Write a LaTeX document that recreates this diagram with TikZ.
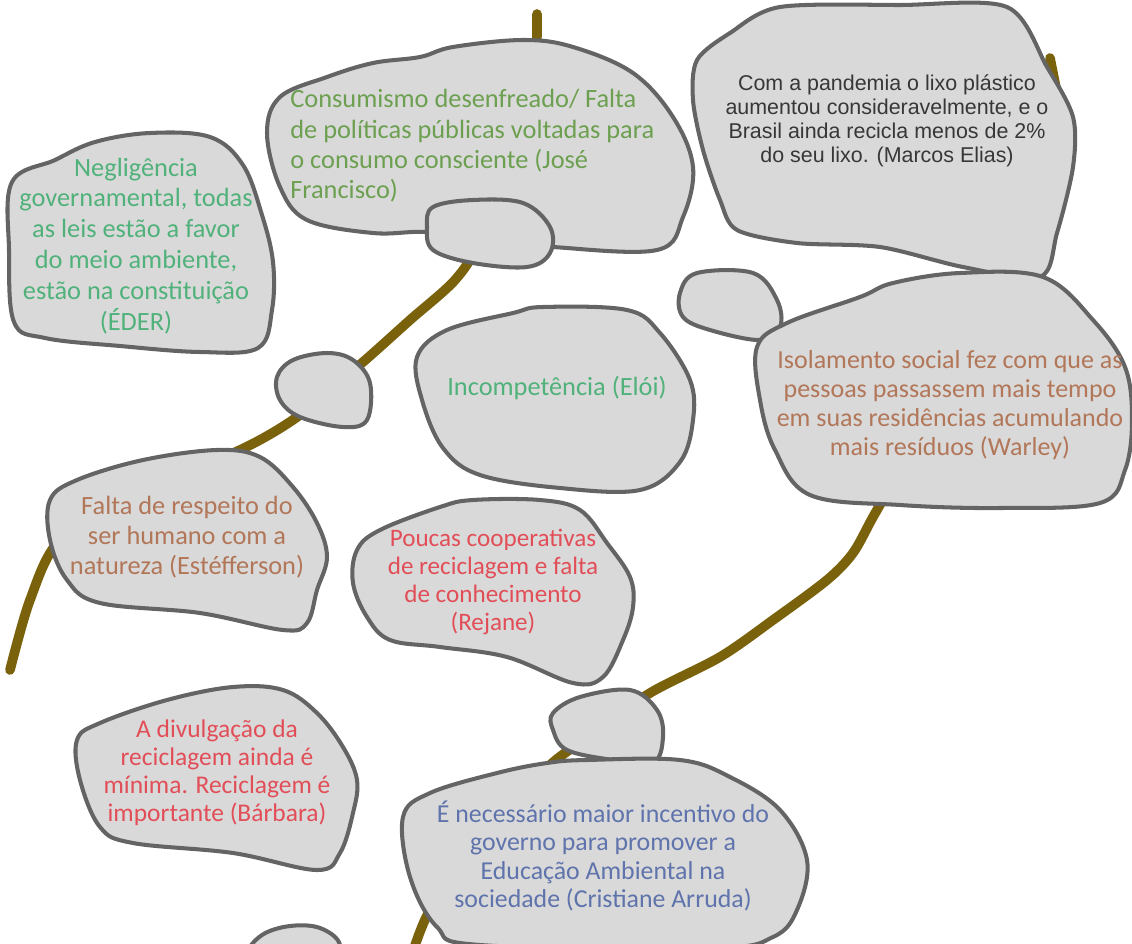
\documentclass[tikz,border=0pt]{standalone}
\usepackage{fontspec}
\setmainfont{Carlito}
\newfontfamily\arialfont{Liberation Sans}

\definecolor{blobfill}{RGB}{217,217,217}
\definecolor{blobline}{RGB}{100,100,100}
\definecolor{stemcol}{RGB}{122,98,12}
\definecolor{tealgreen}{RGB}{80,178,122}
\definecolor{olivegreen}{RGB}{108,160,80}
\definecolor{rust}{RGB}{178,118,88}
\definecolor{rosered}{RGB}{226,78,88}
\definecolor{slateblue}{RGB}{95,115,172}
\definecolor{darkgraytext}{RGB}{55,55,55}

\begin{document}
\begin{tikzpicture}[x=0.02cm, y=-0.02cm,
    blob/.style={draw=blobline, fill=blobfill, line width=2.3pt, line join=round},
    stem/.style={draw=stemcol, line width=5.5pt, line cap=round},
    idea/.style={font=\fontsize{15}{17}\selectfont, align=center, inner sep=0pt}]

    \useasboundingbox (0,0) rectangle (1132,943);
    \clip (0,0) rectangle (1132,943);

    % Stems
    \draw[stem] plot[smooth] coordinates {(537,14) (530,120) (480,240) (455,280) (410,320) (363,362) (300,415) (240,450) (140,490) (60,540) (30,600) (10,670)};
    \draw[stem] (1050,58) -- (1056,88);
    \draw[stem] plot[smooth] coordinates {(900,470) (873,517) (853,553) (827,580) (773,620) (720,657) (650,693) (600,730) (550,765) (480,840) (430,910) (412,955)};

    % Top row
    \draw[blob] plot[smooth cycle, tension=0.6] coordinates {(12,182) (55,160) (95,142) (150,133) (210,137) (243,165) (262,215) (273,262) (272,310) (258,348) (200,352) (120,346) (45,338) (14,322) (9,250)};
    \draw[blob] plot[smooth cycle, tension=0.6] coordinates {(280,97) (327,77) (373,63) (420,57) (453,47) (523,40) (573,47) (633,73) (673,117) (693,167) (683,217) (657,250) (553,247) (490,240) (427,232) (373,233) (307,220) (280,187) (267,133)};
    \draw[blob] plot[smooth cycle, tension=0.6] coordinates {(427,227) (433,207) (473,200) (523,203) (550,227) (550,253) (527,267) (473,263) (433,250)};
    \draw[blob] plot[smooth cycle, tension=0.5] coordinates {(780,7) (900,5) (1007,7) (1047,67) (1073,117) (1073,167) (1057,233) (1040,277) (963,267) (880,247) (797,243) (737,230) (720,200) (703,150) (693,100) (697,60) (730,33)};

    % Middle row
    \draw[blob] plot[smooth cycle, tension=0.6] coordinates {(277,377) (293,360) (327,353) (353,360) (370,383) (367,420) (343,427) (300,417) (280,400)};
    \draw[blob] plot[smooth cycle, tension=0.6] coordinates {(417,357) (447,330) (513,313) (543,307) (627,310) (660,333) (690,380) (693,420) (680,462) (640,490) (560,488) (480,475) (443,448) (422,400)};
    \draw[blob] plot[smooth cycle, tension=0.6] coordinates {(680,293) (697,273) (753,273) (777,300) (780,327) (760,340) (710,330) (683,317)};
    \draw[blob] plot[smooth cycle, tension=0.6] coordinates {(757,347) (787,323) (860,297) (893,283) (960,273) (1043,277) (1093,320) (1125,367) (1132,420) (1125,470) (1100,503) (1000,508) (900,505) (810,495) (775,450) (760,400)};
    \draw[blob] plot[smooth cycle, tension=0.6] coordinates {(50,500) (77,480) (143,460) (217,450) (260,457) (293,487) (317,523) (327,557) (317,590) (307,623) (283,630) (200,613) (100,603) (67,580) (50,540)};
    \draw[blob] plot[smooth cycle, tension=0.6] coordinates {(357,550) (380,530) (440,507) (473,500) (540,500) (580,510) (607,543) (630,577) (633,607) (623,640) (603,677) (573,683) (507,657) (440,647) (390,640) (367,617) (353,583)};

    % Bottom row
    \draw[blob] plot[smooth cycle, tension=0.6] coordinates {(77,740) (100,723) (167,700) (233,687) (283,690) (317,713) (343,747) (357,780) (353,813) (340,853) (317,870) (233,853) (133,843) (100,827) (80,780)};
    \draw[blob] plot[smooth cycle, tension=0.6] coordinates {(553,713) (580,697) (630,690) (657,710) (663,737) (653,763) (613,760) (567,750) (553,730)};
    \draw[blob] plot[smooth cycle, tension=0.6] coordinates {(403,817) (430,793) (497,773) (547,763) (587,760) (680,760) (730,777) (780,810) (807,860) (797,910) (773,937) (713,948) (480,945) (437,927) (410,877)};
    \draw[blob] plot[smooth cycle, tension=0.6] coordinates {(247,955) (262,935) (290,926) (320,928) (340,945) (330,975) (260,978)};

    % Ideas
    \node[idea, text=tealgreen, font=\fontsize{15}{17.6}\selectfont] (neg) at (136,246) {Negligência\\governamental, todas\\as leis estão a favor\\do meio ambiente,\\estão na constituição\\(ÉDER)};
    \node[idea, text=olivegreen, align=left, anchor=west, font=\fontsize{15}{17.3}\selectfont] (con) at (290,146) {Consumismo desenfreado/ Falta\\de políticas públicas voltadas para\\o consumo consciente (José\\Francisco)};
    \node[idea, text=darkgraytext, font=\arialfont\fontsize{12.2}{13.6}\selectfont] (mar) at (887,121) {Com a pandemia o lixo plástico\\aumentou consideravelmente, e o\\Brasil ainda recicla menos de 2\%\\do seu lixo. (Marcos Elias)};
    \node[idea, text=tealgreen] (inc) at (557,388) {Incompetência (Elói)};
    \node[idea, text=rust, font=\fontsize{14.8}{16.4}\selectfont] (war) at (950,405) {Isolamento social fez com que as\\pessoas passassem mais tempo\\em suas residências acumulando\\mais resíduos (Warley)};
    \node[idea, text=rust] (fal) at (187,537) {Falta de respeito do\\ser humano com a\\natureza (Estéfferson)};
    \node[idea, text=rosered, font=\fontsize{14.3}{16}\selectfont] (rej) at (493,582) {Poucas cooperativas\\de reciclagem e falta\\de conhecimento\\(Rejane)};
    \node[idea, text=rosered, font=\fontsize{14.5}{16}\selectfont] (bar) at (217,773) {A divulgação da\\reciclagem ainda é\\mínima. Reciclagem é\\importante (Bárbara)};
    \node[idea, text=slateblue, font=\fontsize{14.7}{16}\selectfont] (cri) at (603,856) {É necessário maior incentivo do\\governo para promover a\\Educação Ambiental na\\sociedade (Cristiane Arruda)};

\end{tikzpicture}
\end{document}
